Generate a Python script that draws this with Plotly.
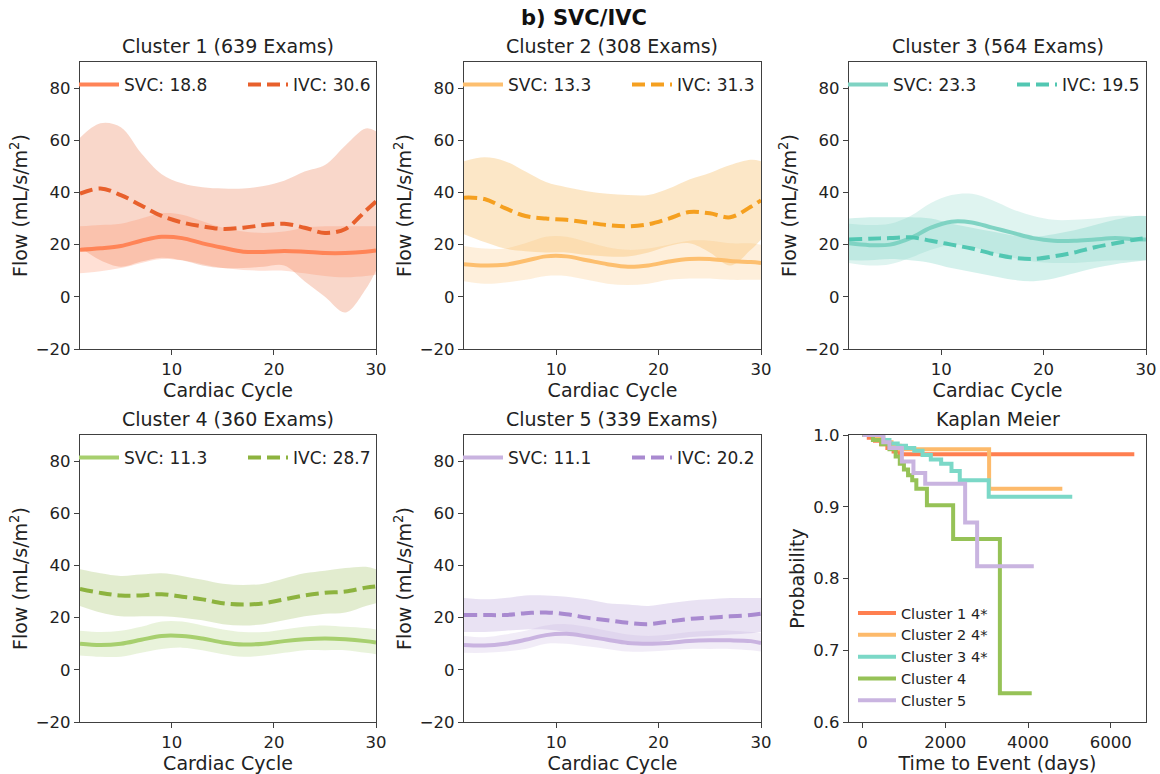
import plotly.graph_objects as go

# ---------------- data ----------------
cycle = [1, 3, 5, 7, 9, 11, 13, 15, 17, 19, 21, 23, 25, 27, 29, 30]

titles = ["Cluster 1 (639 Exams)", "Cluster 2 (308 Exams)", "Cluster 3 (564 Exams)",
          "Cluster 4 (360 Exams)", "Cluster 5 (339 Exams)"]
svc_means = [18.8, 13.3, 23.3, 11.3, 11.1]
ivc_means = [30.6, 31.3, 19.5, 28.7, 20.2]

c1_svc = [18.0, 18.6, 19.5, 21.5, 23.0, 22.5, 20.5, 18.8, 17.3, 17.2, 17.6, 17.3, 16.8, 16.8, 17.3, 17.8]
c1_svc_lo = [9.0, 9.8, 11.0, 13.0, 14.5, 14.0, 12.5, 11.0, 10.3, 10.0, 10.0, 9.0, 8.0, 7.5, 8.0, 8.5]
c1_svc_hi = [27.0, 27.5, 28.0, 30.0, 32.0, 31.5, 29.0, 26.5, 25.0, 24.5, 25.0, 26.5, 27.0, 27.0, 27.0, 27.0]
c1_ivc = [39.5, 41.5, 39.0, 35.0, 31.0, 28.5, 27.0, 26.0, 26.5, 27.5, 28.0, 26.5, 24.5, 26.0, 33.0, 36.5]
c1_ivc_lo = [19.0, 14.0, 11.5, 13.5, 15.0, 14.0, 12.0, 11.0, 11.0, 11.5, 12.0, 6.0, 0.0, -6.0, 3.0, 10.0]
c1_ivc_hi = [61.0, 66.5, 65.0, 55.0, 47.0, 43.5, 42.0, 41.5, 41.5, 42.5, 44.5, 48.0, 50.5, 58.0, 64.5, 63.5]

c2_svc = [12.5, 12.0, 12.3, 13.8, 15.5, 15.5, 14.0, 12.5, 11.5, 12.0, 13.5, 14.5, 14.5, 13.7, 13.3, 13.0]
c2_svc_lo = [6.0, 5.0, 5.5, 6.5, 8.0, 8.0, 6.5, 5.0, 4.5, 5.0, 6.5, 7.0, 7.0, 6.5, 6.5, 6.5]
c2_svc_hi = [19.5, 18.5, 18.5, 20.5, 23.0, 23.0, 21.0, 19.0, 18.0, 18.5, 20.0, 21.5, 21.5, 20.5, 20.5, 20.0]
c2_ivc = [38.0, 37.5, 34.0, 31.0, 30.0, 29.5, 28.5, 27.5, 27.0, 27.8, 30.0, 32.5, 32.0, 30.5, 34.5, 37.0]
c2_ivc_lo = [24.0, 21.0, 18.5, 17.5, 17.0, 17.0, 16.0, 15.5, 15.5, 17.0, 19.5, 20.5, 17.0, 12.0, 18.0, 22.0]
c2_ivc_hi = [52.0, 53.5, 52.0, 48.0, 44.0, 42.0, 40.5, 39.5, 39.0, 39.0, 41.5, 45.0, 47.5, 50.5, 52.5, 52.0]

c3_svc = [20.5, 19.8, 20.0, 22.5, 26.5, 28.8, 28.5, 26.5, 24.5, 22.5, 21.5, 21.5, 22.0, 22.5, 22.0, 22.0]
c3_svc_lo = [13.0, 12.0, 12.5, 15.0, 18.0, 20.0, 19.0, 17.0, 15.0, 13.5, 13.0, 13.0, 13.5, 14.0, 14.0, 14.0]
c3_svc_hi = [28.0, 27.5, 28.0, 31.0, 36.0, 39.0, 39.5, 37.0, 33.5, 31.0, 29.5, 29.5, 30.0, 31.0, 31.0, 31.0]
c3_ivc = [22.0, 22.3, 22.5, 22.8, 21.5, 20.0, 18.5, 16.5, 15.0, 14.5, 15.5, 17.0, 19.0, 20.5, 22.0, 22.5]
c3_ivc_lo = [14.0, 14.0, 14.5, 14.0, 13.0, 11.0, 9.5, 8.0, 6.5, 6.0, 7.0, 9.0, 11.0, 12.5, 13.5, 14.0]
c3_ivc_hi = [30.0, 30.5, 30.5, 30.5, 30.0, 28.0, 26.5, 25.0, 23.5, 23.0, 24.0, 25.5, 27.5, 29.5, 31.0, 31.0]

c4_svc = [10.0, 9.5, 10.0, 11.5, 13.0, 13.0, 12.0, 10.5, 9.7, 10.0, 11.0, 11.7, 12.0, 11.7, 11.0, 10.5]
c4_svc_lo = [5.5, 5.0, 5.0, 6.5, 8.0, 8.5, 7.5, 6.0, 5.0, 5.5, 6.5, 7.5, 7.5, 7.5, 6.5, 6.0]
c4_svc_hi = [15.0, 14.5, 15.0, 16.5, 18.5, 18.5, 17.0, 15.5, 14.5, 14.5, 15.5, 16.5, 17.0, 16.5, 16.0, 15.5]
c4_ivc = [31.0, 29.5, 28.5, 28.5, 29.0, 28.0, 27.0, 25.5, 25.0, 25.5, 27.0, 28.5, 29.5, 30.0, 31.5, 32.0]
c4_ivc_lo = [24.5, 22.0, 20.5, 20.5, 20.5, 20.0, 19.0, 17.5, 17.0, 17.5, 19.0, 20.5, 21.5, 22.0, 24.5, 25.5]
c4_ivc_hi = [38.5, 37.0, 36.0, 36.5, 37.0, 36.0, 34.5, 33.0, 32.5, 33.0, 35.0, 37.0, 38.0, 39.0, 39.5, 38.5]

c5_svc = [9.5, 9.3, 10.0, 11.5, 13.3, 13.8, 12.8, 11.5, 10.3, 10.0, 10.3, 11.0, 11.3, 11.3, 11.0, 10.3]
c5_svc_lo = [6.5, 6.5, 7.0, 8.0, 10.0, 10.0, 9.0, 8.0, 7.0, 7.0, 7.5, 8.0, 8.0, 8.0, 7.5, 7.0]
c5_svc_hi = [13.0, 12.5, 13.5, 15.0, 17.0, 17.5, 16.5, 15.0, 13.5, 13.0, 13.5, 14.5, 15.0, 15.0, 14.5, 14.0]
c5_ivc = [21.0, 21.0, 21.0, 21.7, 22.0, 21.3, 20.0, 19.0, 18.0, 17.5, 18.5, 19.5, 20.0, 20.5, 21.0, 21.5]
c5_ivc_lo = [14.5, 14.5, 15.0, 15.5, 15.5, 14.5, 13.0, 12.0, 11.0, 10.5, 11.5, 12.5, 13.0, 13.5, 14.0, 14.5]
c5_ivc_hi = [27.5, 27.0, 27.5, 28.5, 28.5, 28.0, 27.0, 25.5, 25.0, 24.5, 25.5, 26.5, 27.0, 27.5, 27.5, 27.5]

svc_series = [c1_svc, c2_svc, c3_svc, c4_svc, c5_svc]
svc_lo = [c1_svc_lo, c2_svc_lo, c3_svc_lo, c4_svc_lo, c5_svc_lo]
svc_hi = [c1_svc_hi, c2_svc_hi, c3_svc_hi, c4_svc_hi, c5_svc_hi]
ivc_series = [c1_ivc, c2_ivc, c3_ivc, c4_ivc, c5_ivc]
ivc_lo = [c1_ivc_lo, c2_ivc_lo, c3_ivc_lo, c4_ivc_lo, c5_ivc_lo]
ivc_hi = [c1_ivc_hi, c2_ivc_hi, c3_ivc_hi, c4_ivc_hi, c5_ivc_hi]

# Kaplan Meier
km_names = ["Cluster 1 4*", "Cluster 2 4*", "Cluster 3 4*", "Cluster 4", "Cluster 5"]
km1_t = [0, 150, 300, 450, 600, 750, 900, 6570]
km1_s = [1.0, 0.996, 0.992, 0.987, 0.982, 0.977, 0.973, 0.973]
km2_t = [0, 300, 500, 700, 900, 3060, 4830]
km2_s = [1.0, 0.995, 0.99, 0.985, 0.98, 0.925, 0.925]
km3_t = [0, 500, 650, 850, 1050, 1250, 1450, 1650, 1900, 2150, 2350, 3050, 5070]
km3_s = [1.0, 0.993, 0.988, 0.985, 0.982, 0.978, 0.972, 0.966, 0.96, 0.95, 0.937, 0.914, 0.914]
km4_t = [0, 250, 450, 650, 800, 900, 1000, 1100, 1200, 1300, 1556, 2190, 3320, 4090]
km4_s = [1.0, 0.993, 0.987, 0.98, 0.97, 0.96, 0.952, 0.944, 0.937, 0.925, 0.902, 0.855, 0.64, 0.64]
km5_t = [0, 500, 650, 950, 1230, 1515, 2480, 2770, 4140]
km5_s = [1.0, 0.99, 0.982, 0.963, 0.947, 0.932, 0.878, 0.817, 0.817]
km_t = [km1_t, km2_t, km3_t, km4_t, km5_t]
km_s = [km1_s, km2_s, km3_s, km4_s, km5_s]

flow_ticks = [-20, 0, 20, 40, 60, 80]
cycle_ticks = [10, 20, 30]
km_xticks = [0, 2000, 4000, 6000]
km_yticks = [0.6, 0.7, 0.8, 0.9, 1.0]

# ---------------- style ----------------
svc_colors = ["#FF8457", "#FDBF6F", "#7FD3C3", "#A7CF6E", "#C9B3E0"]
ivc_colors = ["#E8602C", "#F5A020", "#52C7B2", "#8DB33F", "#A98AD0"]
km_colors = ["#FF7F50", "#FDBA6B", "#7BD8C7", "#96C257", "#C9B4E0"]

W, H = 1160, 774
FONT = "DejaVu Sans"
AX = "#404040"


def px_x(p):
    return p / W


def px_y(p):
    return 1 - p / H


col_px = [(80, 376), (464, 761), (849, 1146)]
row_px = [(62, 349), (435, 722)]


def rgba(hexc, a):
    h = hexc.lstrip("#")
    return "rgba(%d,%d,%d,%.2f)" % (int(h[0:2], 16), int(h[2:4], 16), int(h[4:6], 16), a)


fig = go.Figure()
layout = dict(
    width=W, height=H, margin=dict(l=0, r=0, t=0, b=0, autoexpand=False),
    paper_bgcolor="white", plot_bgcolor="white",
    font=dict(family=FONT, size=16, color="#222"),
    showlegend=True,
)
annotations = []

for i in range(6):
    r, c = divmod(i, 3)
    n = i + 1
    xa = "xaxis" if n == 1 else "xaxis%d" % n
    ya = "yaxis" if n == 1 else "yaxis%d" % n
    xr = "x" if n == 1 else "x%d" % n
    yr = "y" if n == 1 else "y%d" % n
    dx = [px_x(col_px[c][0]), px_x(col_px[c][1])]
    dy = [px_y(row_px[r][1]), px_y(row_px[r][0])]
    common = dict(showline=True, mirror=True, linecolor=AX, linewidth=1.3,
                  ticks="outside", ticklen=5, tickwidth=1.3, tickcolor=AX,
                  showgrid=False, zeroline=False, tickfont=dict(size=16.5, color="#222"),
                  automargin=False)
    legname = "legend" if n == 1 else "legend%d" % n
    if i < 5:
        layout[xa] = dict(domain=dx, anchor=yr, range=[1, 30], tickvals=cycle_ticks,
                          title=dict(text="Cardiac Cycle", font=dict(size=19), standoff=2), **common)
        layout[ya] = dict(domain=dy, anchor=xr, range=[-20, 90], tickvals=flow_ticks,
                          title=dict(text="Flow (mL/s/m<sup>2</sup>)", font=dict(size=19), standoff=3), **common)
        # bands
        for lo, hi, col in ((ivc_lo[i], ivc_hi[i], ivc_colors[i]), (svc_lo[i], svc_hi[i], svc_colors[i])):
            fig.add_trace(go.Scatter(x=cycle, y=lo, mode="lines", line=dict(width=0, shape="spline"),
                                     showlegend=False, hoverinfo="skip", xaxis=xr, yaxis=yr))
            fig.add_trace(go.Scatter(x=cycle, y=hi, mode="lines", line=dict(width=0, shape="spline"),
                                     fill="tonexty", fillcolor=rgba(col, 0.25),
                                     showlegend=False, hoverinfo="skip", xaxis=xr, yaxis=yr))
        fig.add_trace(go.Scatter(x=cycle, y=svc_series[i], mode="lines",
                                 line=dict(color=svc_colors[i], width=4, shape="spline"),
                                 name="SVC: %.1f" % svc_means[i], legend=legname, xaxis=xr, yaxis=yr))
        fig.add_trace(go.Scatter(x=cycle, y=ivc_series[i], mode="lines",
                                 line=dict(color=ivc_colors[i], width=4, shape="spline", dash="13px,6px"),
                                 name="IVC: %.1f" % ivc_means[i], legend=legname, xaxis=xr, yaxis=yr))
        leg_y = 85 if r == 0 else 458
        layout[legname] = dict(orientation="h", x=dx[0] - 6 / W, xanchor="left", y=px_y(leg_y),
                               yanchor="middle", bgcolor="rgba(0,0,0,0)", font=dict(size=17),
                               entrywidth=114, entrywidthmode="pixels", itemwidth=40,
                               traceorder="normal", tracegroupgap=0)
        title = titles[i]
    else:
        layout[xa] = dict(domain=dx, anchor=yr, range=[-328, 6853], tickvals=km_xticks,
                          title=dict(text="Time to Event (days)", font=dict(size=19), standoff=2), **common)
        layout[ya] = dict(domain=dy, anchor=xr, range=[0.6, 1.0], tickvals=km_yticks, tickformat=".1f",
                          title=dict(text="Probability", font=dict(size=19), standoff=3), **common)
        for k in range(5):
            fig.add_trace(go.Scatter(x=km_t[k], y=km_s[k], mode="lines",
                                     line=dict(color=km_colors[k], width=4, shape="hv"),
                                     name=km_names[k], legend=legname, xaxis=xr, yaxis=yr))
        layout[legname] = dict(orientation="v", x=px_x(853), xanchor="left", y=px_y(597),
                               yanchor="top", bgcolor="rgba(0,0,0,0)", font=dict(size=14.5),
                               traceorder="normal", tracegroupgap=0, itemwidth=38)
        title = "Kaplan Meier"
    annotations.append(dict(text=title, x=(dx[0] + dx[1]) / 2, y=px_y(row_px[r][0] - 3),
                            xref="paper", yref="paper", xanchor="center", yanchor="bottom",
                            showarrow=False, font=dict(size=19, color="#222")))

annotations.append(dict(text="<b>b) SVC/IVC</b>", x=px_x(584), y=px_y(18), xref="paper", yref="paper",
                        xanchor="center", yanchor="middle", showarrow=False,
                        font=dict(size=21, color="#111")))
layout["annotations"] = annotations
fig.update_layout(**layout)
fig.write_html("out.html", config={"displayModeBar": False},
               post_script="document.body.style.margin='0';document.body.style.overflow='hidden';")
